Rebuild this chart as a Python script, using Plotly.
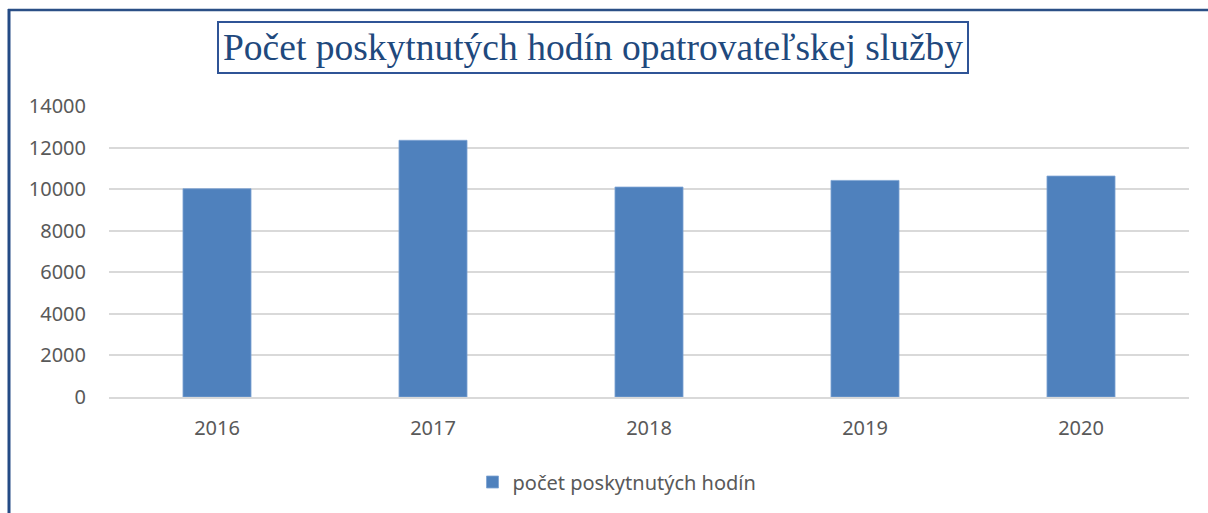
import plotly.graph_objects as go

years = ["2016", "2017", "2018", "2019", "2020"]
hours = [10020, 12350, 10100, 10420, 10630]
series_name = "počet poskytnutých hodín"
title_text = "Počet poskytnutých hodín opatrovateľskej služby"
y_ticks = [0, 2000, 4000, 6000, 8000, 10000, 12000, 14000]
y_tick_labels = [str(v) for v in y_ticks]

W, H = 1208, 513
L, R, T, B = 109, 19, 106, 116
pw, ph = W - L - R, H - T - B

def px(x):
    return (x - L) / pw

def py(y):
    return (H - B - y) / ph

fig = go.Figure()
fig.add_trace(go.Bar(
    x=years, y=hours, name=series_name,
    marker=dict(color="#4F81BD", line=dict(color="#7DA3D3", width=0.8)),
    width=0.315,
))

fig.update_layout(
    width=W, height=H,
    margin=dict(l=L, r=R, t=T, b=B),
    paper_bgcolor="white", plot_bgcolor="white",
    font=dict(family="Noto Sans", color="#595959", size=20),
    showlegend=True,
    legend=dict(orientation="h", x=px(617), xanchor="center", y=py(482), yanchor="middle",
                font=dict(size=20, color="#595959"), itemwidth=30),
    bargap=0.685,
    xaxis=dict(showgrid=False, showline=True, linecolor="#D9D9D9", linewidth=1.5,
               ticks="outside", ticklen=12, tickcolor="rgba(0,0,0,0)",
               tickfont=dict(size=20, color="#595959")),
    yaxis=dict(range=[0, 14000], tickvals=y_ticks, ticktext=y_tick_labels,
               showgrid=True, gridcolor="#D9D9D9",
               gridwidth=1.5, zeroline=False, showline=False,
               ticks="outside", ticklen=18, tickcolor="rgba(0,0,0,0)",
               tickfont=dict(size=20, color="#595959")),
)

fig.add_annotation(
    text=title_text, xref="paper", yref="paper",
    x=px(593), y=py(47), xanchor="center", yanchor="middle", showarrow=False,
    font=dict(family="Liberation Serif", size=37.5, color="#1F497D"),
    bordercolor="#2F5496", borderwidth=2, borderpad=4, bgcolor="white",
)

# outer frame lines (top and left)
fig.add_shape(type="line", xref="paper", yref="paper",
              x0=px(8), x1=px(1210), y0=py(10), y1=py(10),
              line=dict(color="#2B4F86", width=2.5))
fig.add_shape(type="line", xref="paper", yref="paper",
              x0=px(9), x1=px(9), y0=py(9), y1=py(515),
              line=dict(color="#244A85", width=3))

fig.write_html("out.html")
